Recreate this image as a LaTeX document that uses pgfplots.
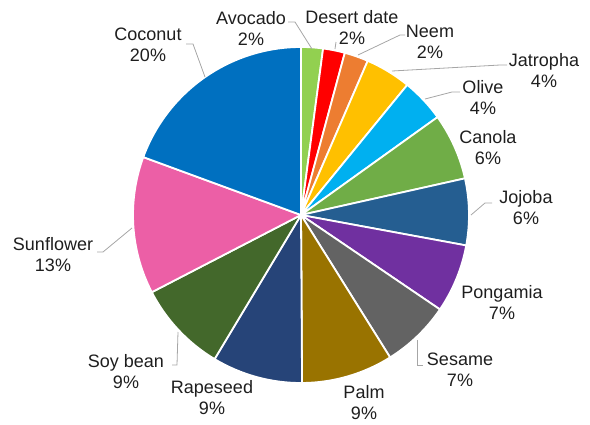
\documentclass[border=0pt]{standalone}
\usepackage{pgfplots}
\pgfplotsset{compat=1.18}
\usepackage{pgfplotstable}
\usepackage{fontspec}
\setmainfont{Liberation Sans}

\definecolor{cAvo}{HTML}{92D050}
\definecolor{cDes}{HTML}{FF0000}
\definecolor{cNee}{HTML}{ED7D31}
\definecolor{cJat}{HTML}{FFC000}
\definecolor{cOli}{HTML}{00B0F0}
\definecolor{cCan}{HTML}{70AD47}
\definecolor{cJoj}{HTML}{255E91}
\definecolor{cPon}{HTML}{7030A0}
\definecolor{cSes}{HTML}{636363}
\definecolor{cPal}{HTML}{997300}
\definecolor{cRap}{HTML}{264478}
\definecolor{cSoy}{HTML}{43682B}
\definecolor{cSun}{HTML}{EC5FA6}
\definecolor{cCoc}{HTML}{0070C0}
\definecolor{txt}{HTML}{1E1E1E}
\definecolor{lead}{HTML}{A6A6A6}

% slices, clockwise from the top (value = share of the pie in %)
\pgfplotstableread[col sep=comma]{
name,value,pct,color,lx,ly
Avocado,2.1,2,cAvo,251,29
Desert date,2.1,2,cDes,352,28
Neem,2.3,2,cNee,430,42
Jatropha,4.4,4,cJat,544,71
Olive,4.2,4,cOli,483,98
Canola,6.4,6,cCan,488,148
Jojoba,6.4,6,cJoj,526,208
Pongamia,6.6,7,cPon,502,303
Sesame,6.6,7,cSes,460,370
Palm,8.8,9,cPal,364,403
Rapeseed,8.7,9,cRap,212,398
Soy bean,8.8,9,cSoy,126,372
Sunflower,13.2,13,cSun,53,255
Coconut,19.4,20,cCoc,148,45
}\piedata

\newcommand\lbl{\fontsize{18}{21}\selectfont}

\begin{document}
\begin{tikzpicture}
\begin{axis}[
  x=1pt, y=1pt, y dir=reverse,
  xmin=0, xmax=590, ymin=0, ymax=424,
  hide axis, clip=false,
]
\path (axis cs:0,0) rectangle (axis cs:590,424);
\pgfplotstablegetrowsof{\piedata}
\pgfmathtruncatemacro\N{\pgfplotsretval-1}
\def\cum{0}
\pgfplotsforeachungrouped \i in {0,...,\N}{%
  \pgfplotstablegetelem{\i}{value}\of\piedata \let\v\pgfplotsretval
  \pgfplotstablegetelem{\i}{color}\of\piedata \let\c\pgfplotsretval
  \pgfplotstablegetelem{\i}{name}\of\piedata \let\nm\pgfplotsretval
  \pgfplotstablegetelem{\i}{pct}\of\piedata \let\pc\pgfplotsretval
  \pgfplotstablegetelem{\i}{lx}\of\piedata \let\lx\pgfplotsretval
  \pgfplotstablegetelem{\i}{ly}\of\piedata \let\ly\pgfplotsretval
  \pgfmathsetmacro\aa{90-3.6*\cum}%
  \pgfmathsetmacro\ab{90-3.6*(\cum+\v)}%
  \pgfmathsetmacro\cum{\cum+\v}%
  \edef\temp{\noexpand\fill[\c, draw=white, line width=1.8pt, line join=round]
     (axis cs:301,215) -- ++(\aa:168pt) arc[start angle=\aa, end angle=\ab, radius=168pt] -- cycle;
     \noexpand\node[align=center, inner sep=0pt, text=txt, font=\noexpand\lbl]
     at (axis cs:\lx,\ly) {\nm\noexpand\\\pc\noexpand\%};}%
  \temp
}
% leader lines
\addplot[lead, line width=0.8pt] coordinates {(205,77) (193,44) (186,44)};
\addplot[lead, line width=0.8pt] coordinates {(312,49) (295,22) (288,22)};
\addplot[lead, line width=0.8pt] coordinates {(335,49) (336,42)};
\addplot[lead, line width=0.8pt] coordinates {(358,55) (400,35) (405,35)};
\addplot[lead, line width=0.8pt] coordinates {(392,71) (500,65) (507,65)};
\addplot[lead, line width=0.8pt] coordinates {(425,99) (452,92) (460,92)};
\addplot[lead, line width=0.8pt] coordinates {(471,215) (485,203) (492,203)};
\addplot[lead, line width=0.8pt] coordinates {(417,340) (417,365) (423,365)};
\addplot[lead, line width=0.8pt] coordinates {(178,332) (177,365) (172,365)};
\addplot[lead, line width=0.8pt] coordinates {(132,228) (103,252) (97,252)};
\end{axis}
\end{tikzpicture}
\end{document}
